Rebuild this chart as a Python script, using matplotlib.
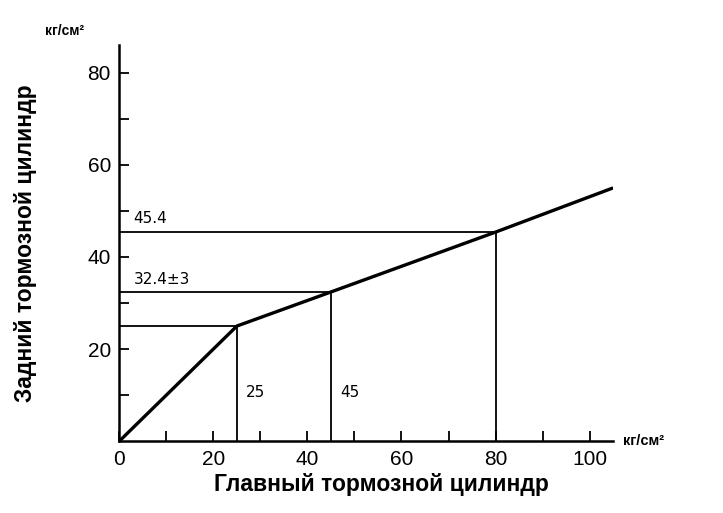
import numpy as np
import matplotlib.pyplot as plt

# characteristic of the pressure regulator
master = [0, 25, 45, 80, 105]
rear = [0, 25, 32.4, 45.4, 55]

# reference points that get guide lines
guide_x = [25, 45, 80]
guide_y = [25, 32.4, 45.4]

x_ticks = [0, 20, 40, 60, 80, 100]
y_ticks = [20, 40, 60, 80]

plt.rcParams['font.family'] = ['Liberation Sans', 'DejaVu Sans']

fig = plt.figure(figsize=(7.23, 5.13), dpi=100)
ax = fig.add_axes([0.165, 0.140, 0.683, 0.772])

ax.plot(master, rear, color="black", linewidth=2.4, solid_capstyle="butt")

for gx, gy in zip(guide_x, guide_y):
	ax.plot([0, gx], [gy, gy], color="black", linewidth=1.3)
	ax.plot([gx, gx], [0, gy], color="black", linewidth=1.3)

ax.set_xlim(0, 105)
ax.set_ylim(0, 86)
ax.spines["top"].set_visible(False)
ax.spines["right"].set_visible(False)
ax.spines["left"].set_linewidth(1.8)
ax.spines["bottom"].set_linewidth(1.8)

ax.set_xticks(x_ticks)
ax.set_yticks(y_ticks)
ax.set_xticks(np.arange(10, 101, 20), minor=True)
ax.set_yticks(np.arange(10, 81, 20), minor=True)
ax.tick_params(which="both", direction="in", length=7, width=1.3, labelsize=15, pad=6)

narrow = ['Liberation Sans Narrow', 'DejaVu Sans']
ax.text(3, 47.3, "45.4", fontsize=11, family=narrow)
ax.text(3, 34.2, "32.4±3", fontsize=11, family=narrow)
ax.text(27, 9.5, "25", fontsize=11, family=narrow)
ax.text(47, 9.5, "45", fontsize=11, family=narrow)

ax.text(107, 0, "кг/см²", fontsize=10.5, fontweight="bold", va="center")
fig.text(0.062, 0.94, "кг/см²", fontsize=10, fontweight="bold", va="center")

ax.set_xlabel("Главный тормозной цилиндр", fontsize=16.5, fontweight="bold", va="center")
ax.xaxis.set_label_coords(0.53, -0.11)
ax.set_ylabel("Задний тормозной цилиндр", fontsize=16.5, fontweight="bold", va="center")
ax.yaxis.set_label_coords(-0.19, 0.5)

fig.savefig("out.png", dpi=100)
